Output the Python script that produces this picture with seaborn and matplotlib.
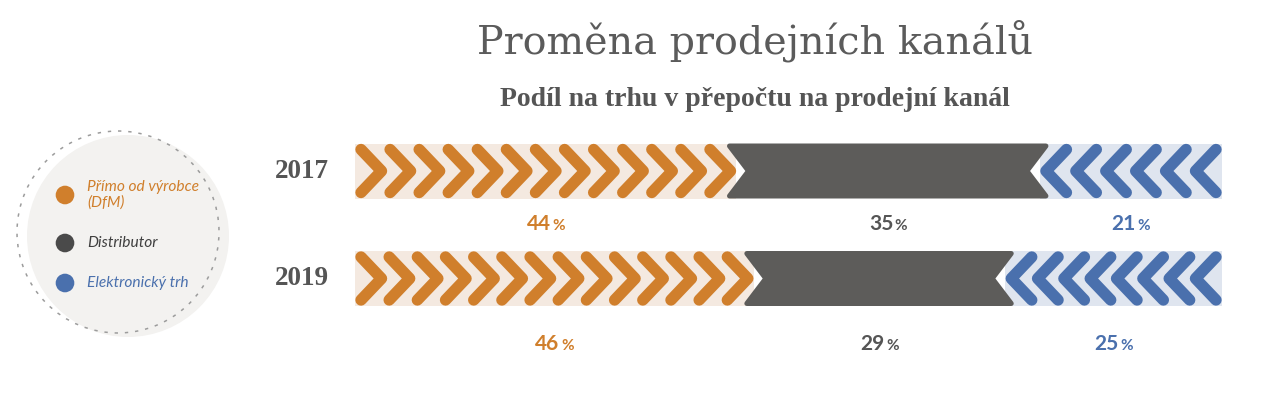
import matplotlib
matplotlib.use("Agg")
import matplotlib.pyplot as plt
import seaborn as sns
import pandas as pd
from matplotlib.patches import Polygon, Circle

# ---------------- data ----------------
years = ["2017", "2019"]
direct = [44, 46]          # Přímo od výrobce (DfM)
distributor = [35, 29]     # Distributor
marketplace = [21, 25]     # Elektronický trh
channels = ["Přímo od výrobce\n(DfM)", "Distributor", "Elektronický trh"]
title = "Proměna prodejních kanálů"
subtitle = "Podíl na trhu v přepočtu na prodejní kanál"

# ---------------- style ----------------
ORANGE = "#d07f2c"
BEIGE = "#f4e9e0"
GRAY = "#5d5c5a"
BLUE = "#4a70ad"
BLUE_BAND = "#dfe5ef"
DARK_DOT = "#4a4a4a"
TEXT_GRAY = "#555555"

sns.set_theme(style="white")
plt.rcParams["font.family"] = ["DejaVu Sans"]

W, H = 1280, 395
fig = plt.figure(figsize=(W / 100, H / 100), dpi=100)
fig.patch.set_facecolor("white")

# main bar axes: x 0..100 mapped onto pixels 355..1222
AX_L, AX_R = 355, 1222
ROW0, ROW_STEP = 171, 107.5
y_top_px = ROW0 - 0.5 * ROW_STEP
y_bot_px = ROW0 + 2.0 * ROW_STEP
ax = fig.add_axes([AX_L / W, (H - y_bot_px) / H, (AX_R - AX_L) / W, (y_bot_px - y_top_px) / H])
PXX = 100 / (AX_R - AX_L)   # data units per pixel (x)
PXY = 1 / ROW_STEP          # data units per pixel (y)

df = pd.DataFrame({"year": years, "direct": direct, "dist": distributor, "mkt": marketplace})
df["total"] = df["direct"] + df["dist"] + df["mkt"]
df["cum2"] = df["direct"] + df["dist"]

BAR_H = 55 * PXY
common = dict(y="year", data=df, ax=ax, saturation=1, width=BAR_H, errorbar=None, linewidth=0)
sns.barplot(x="total", color=BLUE_BAND, **common)
sns.barplot(x="cum2", color="white", **common)
sns.barplot(x="direct", color=BEIGE, **common)

CH_LW = 8.2                 # points (~11.4 px)
DEPTH = 20.5 * PXX
HH = 21.5 * PXY
TIP = 6 * PXX
CAP = 6 * PXX
STEP = 28 * PXX

label_dy = [52.5 * PXY, 66 * PXY]

for i, row in df.iterrows():
    y = i
    b1 = row["direct"]
    b2 = row["cum2"]
    tot = row["total"]
    # orange chevrons pointing right
    tip_c = b1 - TIP
    first_tail = CAP
    L = tip_c - DEPTH - first_tail
    n = int(round(L / STEP)) + 1
    sp = L / (n - 1)
    for k in range(n):
        t = first_tail + k * sp
        ax.plot([t, t + DEPTH, t], [y - HH, y, y + HH], color=ORANGE, lw=CH_LW,
                solid_capstyle="round", solid_joinstyle="round", zorder=3)
    # blue chevrons pointing left
    tip_c = b2 + TIP
    last_tail = tot - CAP
    L = last_tail - (tip_c + DEPTH)
    n = int(round(L / STEP)) + 1
    sp = L / (n - 1)
    for k in range(n):
        t = tip_c + DEPTH + k * sp
        ax.plot([t, t - DEPTH, t], [y - HH, y, y + HH], color=BLUE, lw=CH_LW,
                solid_capstyle="round", solid_joinstyle="round", zorder=3)
    # gray notched segment (rounded corners via thick round-joined edge)
    top, bot = y - BAR_H / 2 + 2.5 * PXY, y + BAR_H / 2 - 2.5 * PXY
    lx, lap = b1 - 7 * PXX, b1 + 12 * PXX
    rx, rap = b2 + 6 * PXX, b2 - 13 * PXX
    ax.add_patch(Polygon([(lx, top), (rx, top), (rap, y), (rx, bot), (lx, bot), (lap, y)],
                         closed=True, fc=GRAY, ec=GRAY, lw=3.6, joinstyle="round", zorder=4))
    # year label
    ax.text((302 - AX_L) * PXX, y, row["year"], ha="center", va="center",
            fontsize=19.5, fontweight="bold", family="Liberation Serif", color=TEXT_GRAY,
            clip_on=False)
    # percentage labels at segment centres
    segs = [(0, b1, ORANGE), (b1, b2, TEXT_GRAY), (b2, tot, BLUE)]
    for (a, b, c) in segs:
        cx = (a + b) / 2
        val = int(round(b - a))
        ly = y + label_dy[i] + 6 * PXY
        ax.text(cx + 5 * PXX, ly, f"{val}", ha="right", va="baseline", fontsize=15,
                fontweight="bold", family="Lato", color=c, clip_on=False)
        ax.text(cx + 6.5 * PXX, ly, "%", ha="left", va="baseline", fontsize=11,
                fontweight="bold", family="Lato", color=c, clip_on=False)

ax.set_xlim(0, 100)
ax.set_ylim(2.0, -0.5)
ax.axis("off")

# ---------------- legend ----------------
lax = fig.add_axes([0, (H - 360) / H, 250 / W, 250 / H])
lax.set_xlim(0, 250)
lax.set_ylim(360, 110)
lax.add_patch(Circle((128, 236), 101, fc="#f3f2f0", ec="none", zorder=1))
lax.add_patch(Circle((118, 232), 101, fill=False, ec="#9c9c9c", lw=1.1,
                     ls=(0, (2.2, 4.5)), zorder=2))
leg_y = [195, 243, 283]
leg_colors = [ORANGE, DARK_DOT, BLUE]
leg_text_colors = [ORANGE, "#3f3f3f", BLUE]
sns.scatterplot(x=[65] * 3, y=leg_y, hue=channels, palette=leg_colors, s=180,
                edgecolor="none", legend=False, ax=lax, zorder=3)
for lbl, yy, c in zip(channels, leg_y, leg_text_colors):
    lax.text(87, yy, lbl, ha="left", va="center", fontsize=11.2, style="italic",
             family="Lato", color=c, linespacing=1.1, zorder=4)
lax.axis("off")

# ---------------- titles ----------------
fig.text(755 / W, 1 - 41 / H, title, ha="center", va="center", fontsize=28.5,
         family="DejaVu Serif", color="#5b5b5b")
fig.text(755 / W, 1 - 99 / H, subtitle, ha="center", va="center", fontsize=20,
         fontweight="bold", family="Liberation Serif", color="#555555")

fig.savefig("out.png", dpi=100, facecolor="white")
